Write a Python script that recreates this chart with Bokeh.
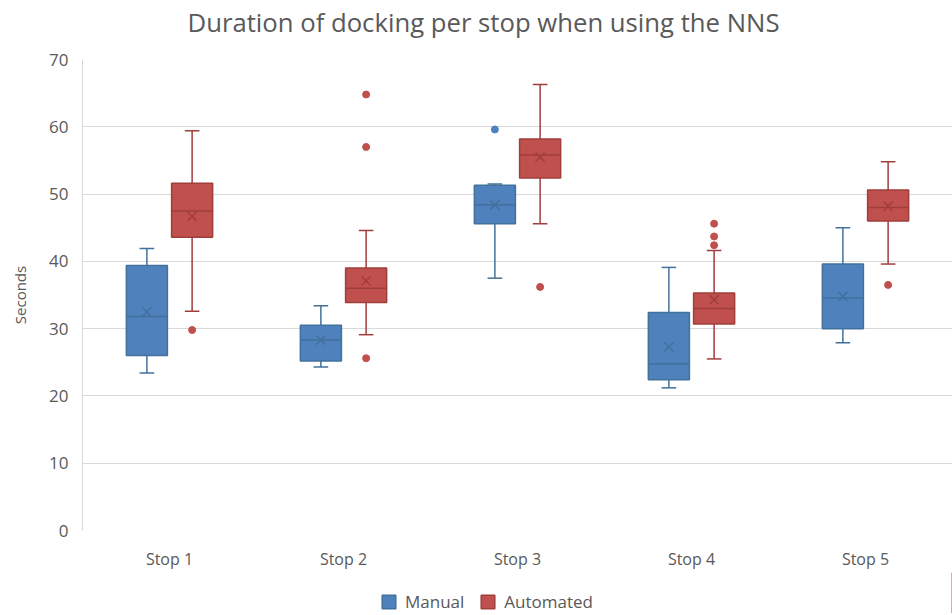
from bokeh.plotting import figure
from bokeh.layouts import column
from bokeh.models import (FactorRange, Range1d, Legend, LegendItem, ColumnDataSource,
                          SingleIntervalTicker, Label)
from bokeh.transform import dodge
from bokeh.embed import file_html
from bokeh.resources import INLINE

# ---- data ----
stops = ["Stop 1", "Stop 2", "Stop 3", "Stop 4", "Stop 5"]

man_low = [23.4, 24.3, 37.5, 21.2, 27.9]
man_q1 = [26.0, 25.2, 45.6, 22.4, 30.0]
man_med = [31.8, 28.3, 48.4, 24.8, 34.6]
man_q3 = [39.4, 30.5, 51.3, 32.4, 39.6]
man_high = [41.9, 33.4, 51.5, 39.1, 45.0]
man_mean = [32.5, 28.3, 48.4, 27.3, 34.8]
man_out_stop = ["Stop 3"]
man_out_val = [59.6]

auto_low = [32.6, 29.1, 45.6, 25.5, 39.6]
auto_q1 = [43.6, 33.9, 52.4, 30.7, 46.0]
auto_med = [47.5, 36.0, 55.8, 33.0, 48.0]
auto_q3 = [51.6, 39.0, 58.2, 35.3, 50.6]
auto_high = [59.4, 44.6, 66.3, 41.6, 54.8]
auto_mean = [46.7, 37.1, 55.5, 34.3, 48.2]
auto_out_stop = ["Stop 1", "Stop 2", "Stop 2", "Stop 2", "Stop 3",
                 "Stop 4", "Stop 4", "Stop 4", "Stop 5"]
auto_out_val = [29.8, 64.8, 57.0, 25.6, 36.2, 45.6, 43.7, 42.4, 36.5]

series_names = ["Manual", "Automated"]
chart_title = "Duration of docking per stop when using the NNS"
y_label = "Seconds"
y_ticks_interval = 10
y_max = 70

FONT = "Open Sans"
TXT = "#595959"
GRID = "#D9D9D9"


def strip(height):
    f = figure(width=952, height=height, output_backend="svg", toolbar_location=None,
               x_range=Range1d(0, 1), y_range=Range1d(0, 1),
               x_axis_type=None, y_axis_type=None,
               min_border_left=0, min_border_right=0, min_border_top=0,
               min_border_bottom=0)
    f.outline_line_color = None
    f.xgrid.grid_line_color = None
    f.ygrid.grid_line_color = None
    return f


# ---- title strip ----
tf = strip(49)
tf.add_layout(Label(x=187, y=22, x_units="canvas", y_units="canvas", text=chart_title,
                    text_font=FONT, text_font_size="25.7px", text_color=TXT,
                    text_align="left", text_baseline="middle"))

# ---- main chart ----
p = figure(x_range=FactorRange(factors=stops, range_padding=0),
           y_range=Range1d(0, y_max),
           width=952, height=523, output_backend="svg", toolbar_location=None,
           min_border_left=82, min_border_right=0, min_border_top=10,
           min_border_bottom=40)
p.outline_line_color = None
p.background_fill_color = "white"
p.border_fill_color = "white"

p.xgrid.grid_line_color = None
p.ygrid.grid_line_color = GRID
p.yaxis.ticker = SingleIntervalTicker(interval=y_ticks_interval)
p.yaxis.axis_line_color = GRID
p.yaxis.major_tick_line_color = None
p.yaxis.minor_tick_line_color = None
p.yaxis.major_label_standoff = 8
p.yaxis.major_label_text_font = FONT
p.yaxis.major_label_text_font_size = "17px"
p.yaxis.major_label_text_color = TXT
p.yaxis.axis_label = y_label
p.yaxis.axis_label_text_font = FONT
p.yaxis.axis_label_text_font_size = "15px"
p.yaxis.axis_label_text_font_style = "normal"
p.yaxis.axis_label_text_color = TXT
p.yaxis.axis_label_standoff = 16

p.xaxis.axis_line_color = None
p.xaxis.major_tick_line_color = None
p.xaxis.minor_tick_line_color = None
p.xaxis.major_label_standoff = 11
p.xaxis.major_label_text_font = FONT
p.xaxis.major_label_text_font_size = "16px"
p.xaxis.major_label_text_color = TXT

off = 0.13
box_w = 0.236
cap_half = 0.042

styles = [
    dict(fill="#4F81BD", line="#41719C"),
    dict(fill="#C0504D", line="#A03E3B"),
]
groups = [
    (man_low, man_q1, man_med, man_q3, man_high, man_mean, man_out_stop, man_out_val, -off),
    (auto_low, auto_q1, auto_med, auto_q3, auto_high, auto_mean, auto_out_stop, auto_out_val, off),
]

for st, (lo, q1, md, q3, hi, mn, os_, ov, d) in zip(styles, groups):
    src = ColumnDataSource(dict(stop=stops, lo=lo, q1=q1, md=md, q3=q3, hi=hi, mn=mn))
    # whiskers
    p.segment(x0=dodge("stop", d, range=p.x_range), y0="hi",
              x1=dodge("stop", d, range=p.x_range), y1="q3",
              source=src, line_color=st["line"], line_width=1.5)
    p.segment(x0=dodge("stop", d, range=p.x_range), y0="lo",
              x1=dodge("stop", d, range=p.x_range), y1="q1",
              source=src, line_color=st["line"], line_width=1.5)
    # caps
    p.segment(x0=dodge("stop", d - cap_half, range=p.x_range), y0="hi",
              x1=dodge("stop", d + cap_half, range=p.x_range), y1="hi",
              source=src, line_color=st["line"], line_width=1.5)
    p.segment(x0=dodge("stop", d - cap_half, range=p.x_range), y0="lo",
              x1=dodge("stop", d + cap_half, range=p.x_range), y1="lo",
              source=src, line_color=st["line"], line_width=1.5)
    # box
    p.vbar(x=dodge("stop", d, range=p.x_range), width=box_w, top="q3", bottom="q1",
           source=src, fill_color=st["fill"], line_color=st["line"], line_width=1.5)
    # median
    p.segment(x0=dodge("stop", d - box_w / 2, range=p.x_range), y0="md",
              x1=dodge("stop", d + box_w / 2, range=p.x_range), y1="md",
              source=src, line_color=st["line"], line_width=1.5)
    # mean
    p.scatter(x=dodge("stop", d, range=p.x_range), y="mn", source=src, marker="x",
              size=13, line_color=st["line"], line_width=1.5)
    # outliers
    osrc = ColumnDataSource(dict(stop=os_, v=ov))
    p.scatter(x=dodge("stop", d, range=p.x_range), y="v", source=osrc, marker="circle",
              size=7, fill_color=st["fill"], line_color=st["fill"])

# ---- legend strip below the chart ----
lg = strip(41)
legend_items = []
for name, st in zip(series_names, styles):
    # proxy glyph placed outside the visible range; only its legend swatch is shown
    r = lg.vbar(x=[5], width=0.1, top=[1], bottom=[0],
                fill_color=st["fill"], line_color=st["line"], line_width=1.5)
    legend_items.append(LegendItem(label=name, renderers=[r]))

legend = Legend(items=legend_items, orientation="horizontal", location=(298, 0),
                border_line_color=None, background_fill_alpha=0,
                label_text_font=FONT, label_text_font_size="17px", label_text_color=TXT,
                glyph_width=17, glyph_height=17, spacing=15, padding=0, margin=0,
                label_standoff=8)
lg.add_layout(legend, "center")

layout = column(tf, p, lg, spacing=0)
open("out.html", "w").write(file_html(layout, INLINE))
